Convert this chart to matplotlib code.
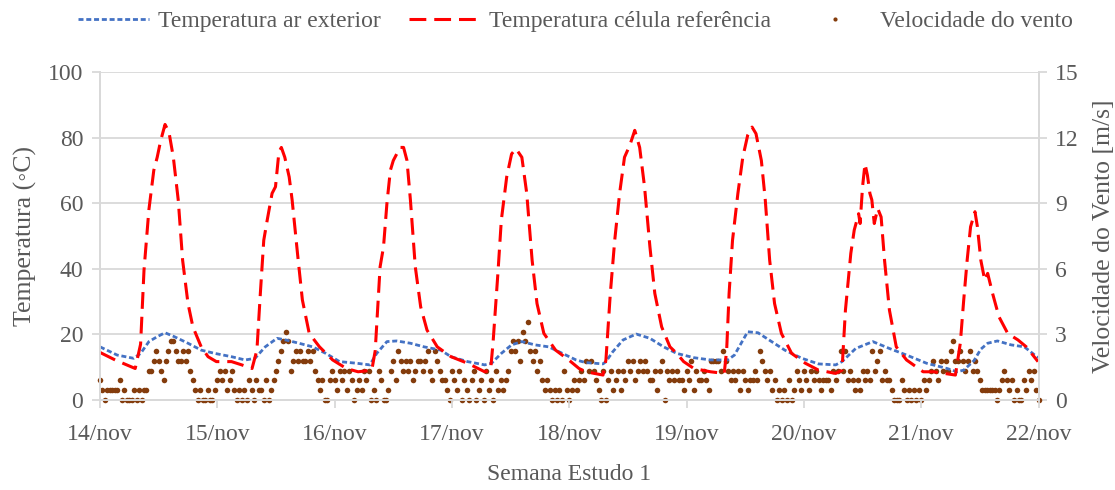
import numpy as np
import matplotlib.pyplot as plt

plt.rcParams['font.family'] = ['Liberation Serif', 'DejaVu Serif']

# x labels (one tick per day)
day_labels = ['14/nov', '15/nov', '16/nov', '17/nov', '18/nov',
              '19/nov', '20/nov', '21/nov', '22/nov']

# outside air temperature: hours since 14/nov 00:00 and value (°C)
air_hours = [0, 3.5, 6.9, 8.3, 10.0, 11.7, 13.3, 15.2, 18.0, 20.7,
             23.5, 26.9, 29.7, 31.7, 33.8, 36.2, 38.0, 40.7, 43.5, 46.2,
             49.0, 52.5, 55.2, 56.6, 58.7, 60.7, 63.5, 66.3, 69.7, 71.8,
             75.2, 78.7, 80.1, 82.1, 84.2, 86.3, 89.0, 91.8, 94.6, 97.4,
             99.4, 102.9, 103.5, 104.9, 107.0, 109.7, 112.5, 115.3, 118.0, 121.5,
             124.9, 128.4, 129.8, 132.5, 134.6, 137.4, 140.1, 143.6, 147.0, 150.5,
             151.8, 154.6, 158.1, 161.5, 165.0, 169.1, 173.3, 175.3, 176.7, 178.8,
             180.2, 181.6, 183.6, 186.4, 189.1, 191.9]
air_temp = [16.2, 13.7, 12.7, 14.2, 17.8, 19.3, 20.5, 19.3, 17.3, 15.2,
            14.2, 13.2, 12.2, 12.7, 16.2, 18.8, 18.3, 17.3, 16.2, 14.2,
            11.7, 11.2, 10.7, 14.2, 17.8, 18.0, 17.3, 16.2, 15.2, 13.2,
            11.7, 10.7, 11.2, 14.2, 16.8, 17.8, 16.8, 16.2, 14.2, 12.2,
            11.4, 11.0, 11.7, 14.7, 18.3, 20.1, 18.8, 16.2, 14.2, 12.9,
            12.2, 12.2, 13.7, 20.8, 20.5, 17.8, 15.2, 12.7, 11.0, 10.7,
            11.7, 15.7, 17.8, 15.7, 13.7, 11.2, 9.6, 8.6, 9.1, 12.0,
            15.5, 17.3, 18.0, 16.8, 16.2, 12.9]

# reference cell temperature
cell_hours = [0, 3.1, 7.2, 8.3, 9.0, 10.0, 11.0, 11.7, 12.4, 13.3,
              14.1, 15.0, 16.0, 16.9, 18.0, 19.0, 20.7, 22.1, 23.8, 26.9,
              29.0, 31.1, 32.1, 32.8, 33.5, 34.2, 35.2, 35.9, 36.6, 37.1,
              37.8, 38.7, 39.3, 40.4, 41.4, 42.8, 44.9, 47.6, 50.4, 52.8,
              55.6, 56.3, 57.3, 58.0, 58.7, 59.4, 60.0, 61.4, 62.1, 62.8,
              63.5, 64.5, 65.6, 66.9, 69.0, 71.8, 75.2, 78.7, 79.9, 80.4,
              81.4, 82.1, 83.2, 84.2, 85.1, 86.3, 87.3, 88.4, 89.4, 90.8,
              93.2, 95.9, 98.0, 99.4, 102.9, 103.5, 104.4, 105.3, 106.3, 107.3,
              108.4, 109.4, 110.4, 111.4, 112.5, 113.5, 114.9, 116.6, 118.0, 119.4,
              121.5, 124.9, 127.7, 128.2, 128.7, 129.4, 130.5, 131.5, 132.5, 133.4,
              134.2, 135.3, 136.1, 137.0, 138.0, 139.4, 141.5, 144.3, 147.0, 150.5,
              151.8, 152.5, 153.6, 154.3, 155.2, 155.5, 156.0, 156.5, 157.0, 157.5,
              157.9, 158.4, 159.1, 159.8, 160.5, 161.5, 162.9, 165.0, 168.4, 170.5,
              175.0, 176.0, 176.7, 177.4, 178.1, 179.0, 179.5, 180.2, 181.0, 181.6,
              182.6, 183.9, 185.7, 187.8, 189.5, 191.9]
cell_temp = [14.5, 12.2, 9.6, 17, 39.6, 58, 70, 74, 79, 84,
             81.7, 74, 61, 42.6, 29.4, 22.3, 16.2, 13.2, 11.7, 11.7,
             10.7, 9.6, 15.2, 32.5, 48.7, 54.8, 63, 65, 75.6, 77,
             74, 68, 61, 44.7, 30.5, 20.3, 16.2, 12.2, 9.6, 8.6,
             9.1, 15, 40.6, 46.7, 60, 70, 73, 77, 77, 73,
             61, 40.6, 28.4, 21.3, 16.2, 13.2, 11.2, 8.6, 9.1, 17.3,
             38.6, 54.8, 68, 75, 76.6, 74, 63, 42.6, 29.4, 20.3,
             15.2, 12.2, 9.6, 8.6, 7.6, 12.2, 32.5, 48.7, 63, 74,
             77.7, 82.2, 77, 65, 46.7, 32.5, 22.3, 16.2, 14.2, 11.7,
             9.6, 8.6, 8.1, 15.2, 32.5, 48.7, 63, 74, 80.7, 83.2,
             81.2, 73, 61, 42.6, 29.4, 20.3, 14.2, 11.2, 9.1, 8.1,
             9.1, 27.4, 44.7, 51.8, 56.8, 53.8, 65, 72, 68.5, 63,
             61, 53.8, 58.4, 55.8, 42.6, 27.4, 16.2, 12.2, 8.6, 8.6,
             7.6, 17.3, 30.5, 42.6, 52.8, 57.4, 52.8, 42.6, 36.5, 38.6,
             32.5, 25.4, 20.3, 18.3, 16.2, 11.7]

# wind speed, half-hourly readings in mph (sensor steps), one list per day
wind_day1 = [2, 1, 0, 1, 1, 1, 1, 1, 2, 0, 1, 0, 0, 0, 1, 0, 1, 0, 1, 1, 3, 3, 4, 5,
             4, 3, 2, 4, 5, 6, 6, 5, 4, 4, 5, 4, 5, 3, 2, 1, 0, 1, 0, 0, 1, 0, 0, 1]
wind_day2 = [2, 3, 2, 3, 1, 2, 3, 1, 0, 1, 0, 1, 0, 2, 1, 0, 2, 1, 1, 0, 2, 0, 1, 2,
             3, 4, 5, 6, 7, 6, 3, 4, 5, 4, 5, 4, 4, 5, 4, 5, 3, 2, 1, 2, 0, 0, 2, 3]
wind_day3 = [2, 1, 3, 2, 3, 1, 3, 2, 0, 1, 2, 1, 3, 2, 3, 0, 1, 0, 3, 2, 0, 0, 1, 3,
             4, 2, 5, 4, 3, 4, 3, 4, 2, 3, 4, 4, 3, 4, 5, 3, 2, 5, 4, 3, 2, 2, 1, 0]
wind_day4 = [3, 2, 1, 3, 0, 2, 1, 0, 2, 3, 0, 1, 2, 0, 3, 1, 2, 0, 3, 1, 2, 1, 2, 3,
             5, 6, 5, 6, 4, 7, 6, 8, 5, 4, 5, 3, 4, 2, 1, 2, 1, 0, 1, 0, 1, 0, 3, 1]
wind_day5 = [0, 1, 2, 1, 2, 3, 2, 4, 3, 4, 3, 2, 1, 0, 3, 0, 2, 3, 1, 2, 3, 1, 3, 2,
             4, 3, 4, 2, 3, 4, 3, 4, 3, 2, 2, 3, 1, 3, 4, 0, 3, 2, 3, 2, 3, 2, 2, 1]
wind_day6 = [3, 2, 4, 1, 3, 2, 2, 3, 2, 1, 4, 4, 4, 4, 3, 5, 4, 3, 2, 3, 2, 3, 1, 3,
             2, 1, 2, 2, 3, 2, 5, 4, 3, 2, 3, 1, 2, 0, 1, 0, 1, 0, 2, 0, 1, 3, 2, 1]
wind_day7 = [3, 2, 1, 3, 2, 3, 2, 1, 2, 2, 2, 1, 3, 2, 3, 5, 3, 5, 2, 3, 2, 1, 2, 1,
             3, 2, 3, 2, 5, 3, 4, 5, 2, 3, 2, 2, 1, 0, 0, 0, 2, 1, 0, 1, 0, 1, 0, 1]
wind_day8 = [0, 2, 1, 2, 3, 4, 3, 2, 4, 3, 4, 3, 5, 6, 4, 4, 5, 4, 3, 4, 5, 3, 4, 3,
             2, 1, 1, 1, 1, 1, 1, 0, 1, 2, 3, 2, 1, 2, 0, 1, 0, 0, 2, 1, 3, 2, 3, 1, 0]

MPH_TO_MS = 0.447

wind_mph = np.array(wind_day1 + wind_day2 + wind_day3 + wind_day4 +
                    wind_day5 + wind_day6 + wind_day7 + wind_day8)
wind_ms = wind_mph * MPH_TO_MS
wind_days = np.arange(len(wind_mph)) * 0.5 / 24

grey_txt = '#595959'
grey_line = '#d9d9d9'

fig = plt.figure(figsize=(11.15, 4.9), dpi=100)
ax = fig.add_axes([0.0897, 0.1837, 0.8417, 0.6694])
ax2 = ax.twinx()
ax.set_zorder(ax2.get_zorder() + 1)
ax.patch.set_visible(False)

# wind on secondary axis (drawn below the temperature lines)
wind_line, = ax2.plot(wind_days, wind_ms, linestyle='none', marker='o',
                      ms=4.0, mew=0, color='#843C0C', clip_on=False,
                      label='Velocidade do vento')

air_line, = ax.plot(np.array(air_hours) / 24, air_temp, color='#4472C4', lw=2.0,
                    dashes=(1.8, 1.0), label='Temperatura ar exterior')
cell_line, = ax.plot(np.array(cell_hours) / 24, cell_temp, color='#FF0000', lw=2.2,
                     dashes=(5.5, 2.6), label='Temperatura célula referência')

ax.set_xlim(0, 8)
ax.set_ylim(0, 100)
ax2.set_ylim(0, 15)
ax.set_xticks(range(9))
ax.set_xticklabels(day_labels)
ax.set_yticks(range(0, 101, 20))
ax2.set_yticks(range(0, 16, 3))

ax2.yaxis.grid(True, color=grey_line, lw=1.3)
ax2.set_axisbelow(True)

for a in (ax, ax2):
    a.spines['top'].set_visible(False)
    for s in ('left', 'right', 'bottom'):
        a.spines[s].set_color(grey_line)
        a.spines[s].set_linewidth(1.3)
    a.tick_params(colors=grey_line, labelcolor=grey_txt, labelsize=17,
                  length=6, width=1.3, direction='out')
ax.tick_params(axis='x', pad=11)
ax.tick_params(axis='y', pad=6)
ax2.tick_params(axis='y', pad=6)

ax.set_xlabel('Semana Estudo 1', fontsize=17, color=grey_txt, labelpad=14)
ax.set_ylabel('Temperatura (◦C)', fontsize=18.5, color=grey_txt, labelpad=8)
ax2.set_ylabel('Velocidade do Vento [m/s]', fontsize=18.5, color=grey_txt, labelpad=10)

leg = fig.legend([air_line, cell_line, wind_line],
                 [air_line.get_label(), cell_line.get_label(), wind_line.get_label()],
                 loc='center', bbox_to_anchor=(0.516, 0.957), ncol=3, frameon=False,
                 handlelength=3, handletextpad=0.4, columnspacing=1.2,
                 fontsize=17, labelcolor=grey_txt, numpoints=1)
leg.legend_handles[2].set_markersize(3)

fig.savefig('out.png', dpi=100)
